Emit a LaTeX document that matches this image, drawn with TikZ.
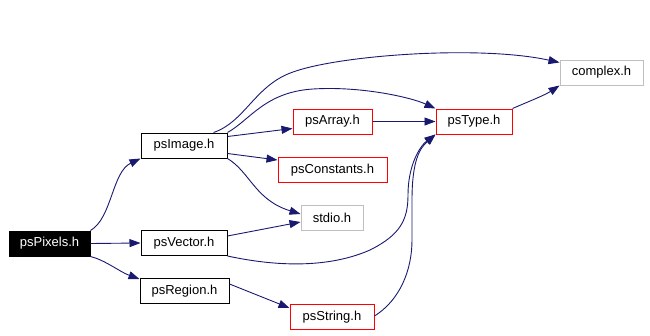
\documentclass[tikz,border=0pt]{standalone}
\usepackage{fontspec}
\setmainfont{Liberation Sans}
\usetikzlibrary{arrows.meta}
\definecolor{edgeblue}{HTML}{191970}
\definecolor{grayborder}{HTML}{BFBFBF}
\begin{document}
\begin{tikzpicture}[x=1pt,y=-1pt,
  box/.style={draw=black,line width=1pt,fill=white,inner sep=0pt,minimum height=25pt,font=\fontsize{13}{15}\selectfont,text=black},
  redbox/.style={box,draw=red},
  graybox/.style={box,draw=grayborder},
  rootbox/.style={box,fill=black,text=white},
  edge/.style={draw=edgeblue,line width=0.9pt,-{Triangle[length=11pt,width=8pt]}}]
\useasboundingbox (0,0) rectangle (650,335);
\node[rootbox,minimum width=81pt] (pix) at (49.5,243.5) {psPixels.h};
\node[box,minimum width=86pt] (img) at (184,145.5) {psImage.h};
\node[box,minimum width=86pt] (vec) at (184,243) {psVector.h};
\node[box,minimum width=89pt] (reg) at (184.5,291) {psRegion.h};
\node[graybox,minimum width=83pt] (cpx) at (601.5,72.5) {complex.h};
\node[redbox,minimum width=76pt] (typ) at (474,121.5) {psType.h};
\node[redbox,minimum width=79pt] (arr) at (332.5,121.5) {psArray.h};
\node[redbox,minimum width=109pt] (con) at (332.5,170) {psConstants.h};
\node[graybox,minimum width=62pt] (std) at (332,218) {stdio.h};
\node[redbox,minimum width=84pt] (str) at (332,317) {psString.h};

% psPixels edges
\draw[edge] (pix.north east) .. controls (112,218) and (112,172) .. (img.south west);
\draw[edge] (pix.east) -- (vec.west);
\draw[edge] (pix.south east) .. controls (105,260) and (120,272) .. ([yshift=-1pt]reg.north west);
% psImage edges
\draw[edge] ([xshift=-14pt]img.north east) .. controls (245,122) and (255,85) .. (293,72)
  .. controls (340,55) and (480,45) .. ([yshift=-3pt]cpx.north west);
\draw[edge] (img.north east) .. controls (250,120) and (265,92) .. (313,89)
  .. controls (360,86) and (410,97) .. (typ.north west);
\draw[edge] ([yshift=-4pt]img.north east) -- ([yshift=6pt]arr.south west);
\draw[edge] ([yshift=5pt]img.south east) -- ([yshift=-3pt]con.north west);
\draw[edge] (img.south east) .. controls (250,172) and (255,200) .. ([yshift=4pt]std.west);
% psVector edges
\draw[edge] ([yshift=-6pt]vec.north east) -- ([yshift=-4pt]std.west);
\draw[edge] (vec.south east) .. controls (260,263) and (320,272) .. (370,250)
  .. controls (400,235) and (408,220) .. (408,195)
  .. controls (408,165) and (420,146) .. (typ.south west);
% psRegion
\draw[edge] ([yshift=-6pt]reg.north east) -- ([yshift=-4pt]str.north west);
% psArray
\draw[edge] (arr.east) -- (typ.west);
% psType
\draw[edge] (typ.north east) .. controls (530,101) and (545,95) .. (cpx.south west);
% psString
\draw[edge] ([yshift=1pt]str.east) .. controls (400,300) and (412,270) .. (412,240)
  -- (412,200) .. controls (412,160) and (420,148) .. (typ.south west);
\end{tikzpicture}
\end{document}
